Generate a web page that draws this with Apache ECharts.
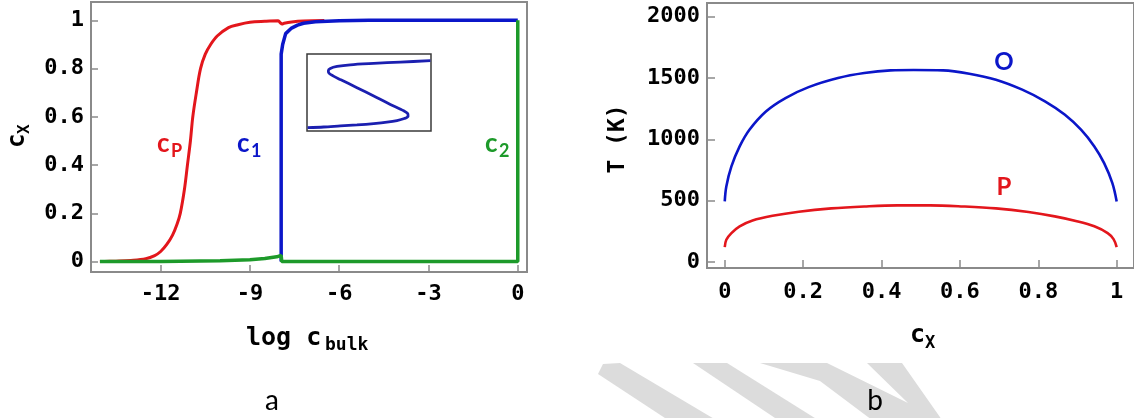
<!DOCTYPE html>
<html>
<head>
<meta charset="utf-8">
<script src="https://cdn.jsdelivr.net/npm/echarts@6/dist/echarts.min.js"></script>
<style>
html,body{margin:0;padding:0;background:#fff;}
#chart{width:1134px;height:418px;}
</style>
</head>
<body>
<div id="chart"></div>
<script>
// ---- Panel a: c_X vs log c_bulk ----
const aTicksX = [-12, -9, -6, -3, 0];
const aTicksY = [0, 0.2, 0.4, 0.6, 0.8, 1];

const redX = [-14.04, -13.5, -13.0, -12.5, -12.2, -12.0, -11.8, -11.6, -11.45, -11.34, -11.2, -11.1, -11.0, -10.92, -10.8, -10.66, -10.5, -10.32, -10.1, -9.72, -9.4, -9.0, -8.5, -8.05, -7.98, -7.92, -7.85, -7.6, -7.2, -6.5];
const redY = [0, 0.002, 0.005, 0.012, 0.025, 0.042, 0.07, 0.11, 0.155, 0.2, 0.3, 0.4, 0.5, 0.6, 0.7, 0.8, 0.86, 0.9, 0.935, 0.97, 0.982, 0.992, 0.996, 0.998, 0.99, 0.985, 0.988, 0.993, 0.997, 0.999];

const blueX = [-7.95, -7.95, -7.9, -7.8, -7.6, -7.4, -7.2, -6.8, -6.0, -5.0, 0];
const blueY = [0, 0.86, 0.9, 0.945, 0.968, 0.98, 0.988, 0.994, 0.998, 1.0, 1.0];

const greenX = [-14.04, -12, -10, -9, -8.5, -8.1, -7.95, -7.93, 0, 0];
const greenY = [0, 0.001, 0.004, 0.008, 0.013, 0.02, 0.026, 0, 0, 1];

// inset S-curve (relative coordinates of the inset box)
const insetX = [0.005, 0.134, 0.269, 0.403, 0.538, 0.645, 0.726, 0.785, 0.815, 0.812, 0.780, 0.672, 0.538, 0.403, 0.269, 0.210, 0.177, 0.172, 0.188, 0.242, 0.349, 0.538, 0.753, 0.995];
const insetY = [0.044, 0.052, 0.066, 0.079, 0.096, 0.114, 0.135, 0.162, 0.192, 0.227, 0.262, 0.345, 0.454, 0.563, 0.668, 0.716, 0.751, 0.782, 0.812, 0.838, 0.860, 0.878, 0.895, 0.913];

// ---- Panel b: T(K) vs c_X ----
const bTicksX = [0, 0.2, 0.4, 0.6, 0.8, 1];
const bTicksY = [0, 500, 1000, 1500, 2000];

const oX = [0, 0.004, 0.017, 0.038, 0.063, 0.105, 0.155, 0.214, 0.289, 0.356, 0.423, 0.482, 0.557, 0.624, 0.692, 0.759, 0.817, 0.868, 0.909, 0.943, 0.968, 0.989, 1.0];
const oY = [494, 616, 779, 942, 1078, 1227, 1336, 1425, 1499, 1540, 1561, 1564, 1561, 1534, 1485, 1404, 1309, 1200, 1078, 942, 806, 643, 494];

const pX = [0, 0.004, 0.017, 0.038, 0.071, 0.122, 0.189, 0.272, 0.356, 0.44, 0.524, 0.608, 0.692, 0.775, 0.842, 0.901, 0.943, 0.977, 0.992, 1.0];
const pY = [122, 182, 236, 291, 339, 377, 410, 437, 453, 462, 462, 453, 437, 407, 372, 331, 291, 236, 187, 122];

const zip = (xs, ys) => xs.map((x, i) => [x, ys[i]]);

const RED = '#e3161c', BLUE = '#0b16c9', GREEN = '#1d9a2a', INSET = '#1b1fb0';
const MONO = 'DejaVu Sans Mono';
const SANS = 'Lato';
const FRAME = '#8a8a8a';

const tickLabel = {fontFamily: MONO, fontWeight: 'bold', fontSize: 22, color: '#000'};

function fmt(v) {
  if (v === 0) return '0';
  if (v === 1) return '1';
  return String(Math.round(v * 10) / 10);
}

const chart = echarts.init(document.getElementById('chart'), null, {renderer: 'canvas'});

function txt(x, y, s, opt) {
  return {
    type: 'text', x: x, y: y, rotation: opt.rot || 0, z: 100,
    style: {
      text: s, fill: opt.color || '#000',
      font: (opt.weight || 'bold') + ' ' + opt.size + 'px "' + (opt.family || MONO) + '"',
      align: opt.align || 'left', verticalAlign: opt.va || 'middle'
    }
  };
}

const option = {
  animation: false,
  backgroundColor: '#fff',
  grid: [
    {left: 91, top: 2, width: 436, height: 270, show: true, borderColor: FRAME, borderWidth: 2, backgroundColor: 'transparent'},
    {left: 307, top: 54, width: 124, height: 77, show: true, borderColor: '#3a3a3a', borderWidth: 1.5, backgroundColor: '#fff', z: 5},
    {left: 707, top: 3, width: 433, height: 265, show: true, borderColor: FRAME, borderWidth: 2, backgroundColor: 'transparent'}
  ],
  xAxis: [
    {type: 'value', gridIndex: 0, min: -14.34, max: 0.31,
     axisLine: {show: true, onZero: false, lineStyle: {color: FRAME, width: 2}},
     axisTick: {show: true, inside: true, length: 7, customValues: aTicksX, lineStyle: {color: FRAME, width: 1.5}},
     axisLabel: {show: true, customValues: aTicksX, margin: 11, ...tickLabel, formatter: v => String(v)},
     splitLine: {show: false}},
    {type: 'value', gridIndex: 1, min: 0, max: 1, show: false},
    {type: 'value', gridIndex: 2, min: -0.0453, max: 1.0442,
     axisLine: {show: true, onZero: false, lineStyle: {color: FRAME, width: 2}},
     axisTick: {show: true, inside: true, length: 8, customValues: bTicksX, lineStyle: {color: FRAME, width: 1.5}},
     axisLabel: {show: true, customValues: bTicksX, margin: 13, ...tickLabel, formatter: fmt},
     splitLine: {show: false}},
  ],
  yAxis: [
    {type: 'value', gridIndex: 0, min: -0.043, max: 1.076,
     axisLine: {show: true, onZero: false, lineStyle: {color: FRAME, width: 2}},
     axisTick: {show: true, inside: true, length: 7, customValues: aTicksY, lineStyle: {color: FRAME, width: 1.5}},
     axisLabel: {show: true, customValues: aTicksY, margin: 7, ...tickLabel, formatter: fmt},
     splitLine: {show: false}},
    {type: 'value', gridIndex: 1, min: 0, max: 1, show: false},
    {type: 'value', gridIndex: 2, min: -48.5, max: 2110,
     axisLine: {show: true, onZero: false, lineStyle: {color: FRAME, width: 2}},
     axisTick: {show: true, inside: true, length: 8, customValues: bTicksY, lineStyle: {color: FRAME, width: 1.5}},
     axisLabel: {show: true, customValues: bTicksY, margin: 7, ...tickLabel, formatter: v => String(v)},
     splitLine: {show: false}}
  ],
  series: [
    {name: 'cP', type: 'line', xAxisIndex: 0, yAxisIndex: 0, data: zip(redX, redY), showSymbol: false, smooth: 0.35, z: 2,
     lineStyle: {color: RED, width: 3}},
    {name: 'c1', type: 'line', xAxisIndex: 0, yAxisIndex: 0, data: zip(blueX, blueY), showSymbol: false, smooth: false, z: 3,
     lineStyle: {color: BLUE, width: 3.5}},
    {name: 'c2', type: 'line', xAxisIndex: 0, yAxisIndex: 0, data: zip(greenX, greenY), showSymbol: false, smooth: false, z: 4,
     lineStyle: {color: GREEN, width: 3.5}},
    {name: 'inset', type: 'line', xAxisIndex: 1, yAxisIndex: 1, data: zip(insetX, insetY), showSymbol: false, smooth: 0.3, z: 6,
     lineStyle: {color: INSET, width: 2.8}},
    {name: 'O', type: 'line', xAxisIndex: 2, yAxisIndex: 2, data: zip(oX, oY), showSymbol: false, smooth: 0.35, z: 3,
     lineStyle: {color: BLUE, width: 2.6}},
    {name: 'P', type: 'line', xAxisIndex: 2, yAxisIndex: 2, data: zip(pX, pY), showSymbol: false, smooth: 0.35, z: 3,
     lineStyle: {color: RED, width: 2.6}}
  ],
  graphic: [
    // watermark stripes
    {type: 'polygon', z: -1, shape: {points: [[598, 374], [603, 364], [620, 363], [716, 420], [668, 420]]}, style: {fill: '#dcdcdc'}},
    {type: 'polygon', z: -1, shape: {points: [[693, 363], [727, 363], [818, 420], [778, 420]]}, style: {fill: '#dcdcdc'}},
    {type: 'polygon', z: -1, shape: {points: [[760, 363], [827, 363], [908, 403], [867, 363], [902, 363], [942, 420], [872, 420], [820, 381]]}, style: {fill: '#dcdcdc'}},
    // panel a labels
    txt(157, 144, 'c', {size: 26, family: SANS, color: RED}),
    txt(171, 151, 'P', {size: 18, family: SANS, color: RED}),
    txt(237, 144, 'c', {size: 26, family: SANS, color: BLUE}),
    txt(251, 151, '1', {size: 18, family: SANS, color: BLUE}),
    txt(485, 144, 'c', {size: 26, family: SANS, color: GREEN}),
    txt(499, 151, '2', {size: 18, family: SANS, color: GREEN}),
    // panel a y title (rotated)
    txt(18, 148, 'c', {size: 24, rot: Math.PI / 2}),
    txt(25, 134, 'X', {size: 16, rot: Math.PI / 2}),
    // panel a x title
    txt(246, 338, 'log c', {size: 25}),
    txt(325, 345, 'bulk', {size: 18}),
    txt(272, 401, 'a', {size: 28, family: SANS, weight: 'normal', align: 'center'}),
    // panel b labels
    txt(1004, 62, 'O', {size: 24, family: SANS, color: BLUE, align: 'center'}),
    txt(1004, 187, 'P', {size: 24, family: SANS, color: RED, align: 'center'}),
    txt(618, 139, 'T (K)', {size: 23, rot: Math.PI / 2, align: 'center'}),
    txt(910, 335, 'c', {size: 25}),
    txt(925, 344, 'X', {size: 17}),
    txt(875, 401, 'b', {size: 28, family: SANS, weight: 'normal', align: 'center'})
  ]
};
chart.setOption(option);
</script>
</body>
</html>
